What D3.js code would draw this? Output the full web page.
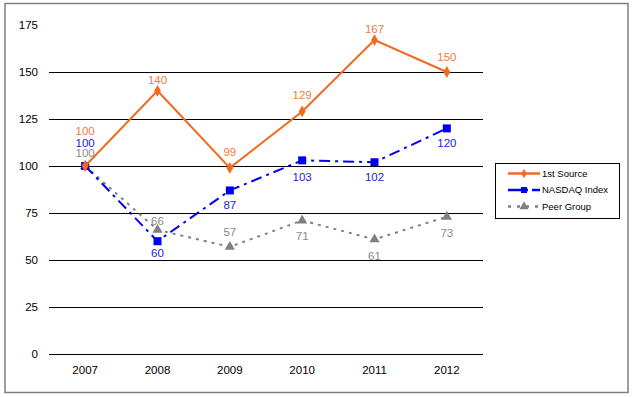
<!DOCTYPE html>
<html>
<head>
<meta charset="utf-8">
<script src="https://cdn.jsdelivr.net/npm/d3@7"></script>
<style>
  body { margin: 0; background: #fff; }
  svg text { font-family: "Liberation Sans", Arial, sans-serif; }
</style>
</head>
<body>
<div id="vis"></div>
<script>
var years = ['2007', '2008', '2009', '2010', '2011', '2012'];
var firstSource = [100, 140, 99, 129, 167, 150];
var nasdaq = [100, 60, 87, 103, 102, 120];
var peerGroup = [100, 66, 57, 71, 61, 73];
var yTicks = [0, 25, 50, 75, 100, 125, 150, 175];

// label placement: negative = above the point, positive = below
var firstOffsets = [-35, -11, -16, -17, -11, -15];
var nasdaqOffsets = [-23, 12, 15, 17, 15, 15];
var peerOffsets = [-13, -9, -15, 15, 17, 16];

var width = 634, height = 397;
var margin = { left: 49, right: 151, top: 25, bottom: 43 };
var drawWidth = width - margin.left - margin.right,
    drawHeight = height - margin.top - margin.bottom;

var svg = d3.select('#vis').append('svg')
    .attr('width', width)
    .attr('height', height);

svg.append('rect')
    .attr('x', 5).attr('y', 3.5)
    .attr('width', 623).attr('height', 389)
    .attr('fill', 'none')
    .attr('stroke', '#7f7f7f')
    .attr('stroke-width', 1.5);

var g = svg.append('g')
    .attr('transform', `translate(${margin.left}, ${margin.top})`);

var xScale = d3.scaleBand().domain(years).range([0, drawWidth]);
var yScale = d3.scaleLinear().domain([0, 175]).range([drawHeight, 0]);
var xPos = (i) => xScale(years[i]) + xScale.bandwidth() / 2;

// gridlines
g.selectAll('.grid')
    .data(yTicks.filter((d) => d < 175))
    .enter().append('line')
    .attr('x1', 0).attr('x2', drawWidth)
    .attr('y1', (d) => Math.round(yScale(d)) + 0.5)
    .attr('y2', (d) => Math.round(yScale(d)) + 0.5)
    .attr('stroke', '#000')
    .attr('stroke-width', 1);

// y axis
var yAxis = d3.axisLeft(yScale).tickValues(yTicks).tickSize(0).tickPadding(11);
var yAxisG = g.append('g').call(yAxis);
yAxisG.select('.domain').remove();
yAxisG.selectAll('text')
    .attr('font-size', 11.5)
    .attr('fill', '#000')
    .style('font-family', '"Liberation Sans", Arial, sans-serif');

// x axis
var xAxis = d3.axisBottom(xScale).tickSize(0).tickPadding(12);
var xAxisG = g.append('g')
    .attr('transform', `translate(0, ${drawHeight})`)
    .call(xAxis);
xAxisG.select('.domain').remove();
xAxisG.selectAll('text')
    .attr('font-size', 11.5)
    .attr('fill', '#000')
    .style('font-family', '"Liberation Sans", Arial, sans-serif');

var series = [
    { name: '1st Source', values: firstSource, offsets: firstOffsets, color: '#f26a1f', label: '#ef7d3c', dash: null, width: 2, marker: 'diamond' },
    { name: 'NASDAQ Index', values: nasdaq, offsets: nasdaqOffsets, color: '#0000f0', label: '#2222dd', dash: '11,5,3,5', width: 2, marker: 'square' },
    { name: 'Peer Group', values: peerGroup, offsets: peerOffsets, color: '#808080', label: '#8a8a8a', dash: '3,5', width: 2, marker: 'triangle' }
];

var symbolFor = (m) => m === 'diamond' ? d3.symbol().type(d3.symbolDiamond).size(40)
    : m === 'square' ? d3.symbol().type(d3.symbolSquare).size(64)
    : d3.symbol().type(d3.symbolTriangle).size(45);

var line = d3.line()
    .x((d, i) => xPos(i))
    .y((d) => yScale(d));

// draw back to front: peer, nasdaq, first source
series.slice().reverse().forEach(function(s) {
    g.append('path')
        .datum(s.values)
        .attr('d', line)
        .attr('fill', 'none')
        .attr('stroke', s.color)
        .attr('stroke-width', s.width)
        .attr('stroke-dasharray', s.dash);

    g.selectAll('.m-' + s.marker)
        .data(s.values)
        .enter().append('path')
        .attr('class', 'm-' + s.marker)
        .attr('d', symbolFor(s.marker))
        .attr('transform', (d, i) => `translate(${xPos(i)}, ${yScale(d)})`)
        .attr('fill', s.color);

    g.selectAll('.l-' + s.marker)
        .data(s.values)
        .enter().append('text')
        .attr('class', 'l-' + s.marker)
        .attr('x', (d, i) => xPos(i))
        .attr('y', (d, i) => yScale(d) + s.offsets[i])
        .attr('dy', '0.35em')
        .attr('text-anchor', 'middle')
        .attr('font-size', 11.5)
        .attr('fill', s.label)
        .text((d) => d);
});

// legend
var legend = svg.append('g').attr('transform', 'translate(495, 163)');
legend.append('rect')
    .attr('x', 0.5).attr('y', 0.5)
    .attr('width', 124).attr('height', 55)
    .attr('fill', '#fff')
    .attr('stroke', '#000')
    .attr('stroke-width', 1);

series.forEach(function(s, i) {
    var ly = 10.5 + i * 16.5;
    var row = legend.append('g').attr('transform', `translate(0, ${ly})`);
    row.append('line')
        .attr('x1', 13).attr('x2', 45)
        .attr('y1', 0).attr('y2', 0)
        .attr('stroke', s.color)
        .attr('stroke-width', s.width + 0.5)
        .attr('stroke-dasharray', s.dash ? (s.marker === 'square' ? '14,4,2,4' : '3,6') : null);
    row.append('path')
        .attr('d', symbolFor(s.marker).size(s.marker === 'diamond' ? 25 : 36))
        .attr('transform', 'translate(29, 0)')
        .attr('fill', s.color);
    row.append('text')
        .attr('x', 47).attr('y', 0)
        .attr('dy', '0.35em')
        .attr('font-size', 9.5)
        .attr('fill', '#000')
        .text(s.name);
});
</script>
</body>
</html>
